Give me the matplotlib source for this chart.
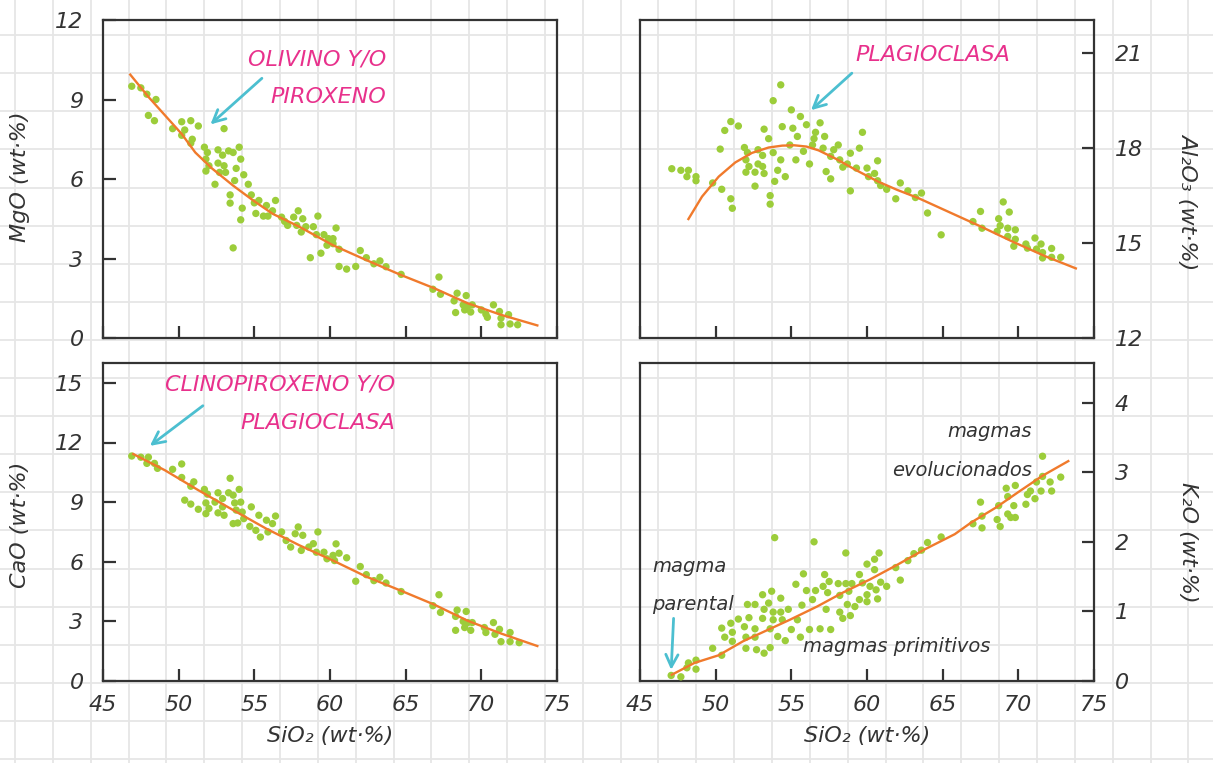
import numpy as np
import matplotlib
matplotlib.use('Agg')
import matplotlib.pyplot as plt

plt.rcParams.update({
    'font.family': ['DejaVu Sans'],
    'font.style': 'oblique',
    'axes.linewidth': 1.6,
    'axes.edgecolor': '#333333',
})

GREEN = '#9ccd3a'
ORANGE = '#f07a2c'
PINK = '#e8318c'
CYAN = '#4cbfd0'
INK = '#333333'

# --- MgO vs SiO2 ---
mgo_si = [46.9, 47.5, 47.9, 48.5, 48.0, 48.4, 49.6, 50.2, 50.8, 51.3, 50.4, 50.2, 50.9, 50.8, 53.0,
          51.7, 51.9, 52.6, 53.3, 54.0, 53.6, 54.1, 52.9, 51.8, 52.6, 53.0, 52.0, 51.8, 52.7, 53.1,
          53.8, 54.3, 53.7, 52.4, 54.6, 54.8, 53.4, 53.4, 54.2, 54.1, 55.0, 55.3, 55.8, 56.4, 55.1,
          55.6, 55.9, 56.2, 56.8, 57.0, 57.2, 57.6, 57.9, 58.2, 57.8, 58.1, 58.4, 58.9, 59.2, 59.1,
          59.6, 59.9, 60.2, 60.4, 59.8, 60.6, 60.2, 58.7, 59.4, 53.6, 62.0, 62.4, 62.9, 63.3, 63.7,
          60.6, 61.1, 61.7, 64.7, 67.2, 66.8, 67.3, 68.4, 69.0, 68.2, 68.8, 69.1, 69.4, 68.3, 68.9,
          69.3, 70.0, 70.3, 70.8, 71.2, 70.4, 71.8, 71.3, 71.3, 71.9, 72.4]
mgo = [9.5, 9.44, 9.2, 9.0, 8.4, 8.2, 7.9, 8.16, 8.2, 8.0, 7.85, 7.65, 7.5, 7.35, 7.9,
       7.2, 7.0, 7.1, 7.06, 7.2, 7.0, 6.75, 6.9, 6.75, 6.6, 6.5, 6.5, 6.3, 6.25, 6.25,
       6.4, 6.16, 5.94, 5.8, 5.8, 5.4, 5.4, 5.09, 4.9, 4.46, 5.1, 5.19, 5.0, 5.19, 4.7,
       4.6, 4.6, 4.8, 4.56, 4.4, 4.25, 4.56, 4.8, 4.5, 4.25, 4.0, 4.2, 4.2, 4.6, 3.9,
       3.9, 3.75, 3.75, 4.15, 3.5, 3.35, 3.56, 3.03, 3.2, 3.4, 3.3, 3.03, 2.8, 2.91, 2.69,
       2.7, 2.6, 2.7, 2.4, 2.3, 1.84, 1.65, 1.69, 1.6, 1.4, 1.25, 1.19, 1.25, 0.96, 1.06,
       0.98, 1.06, 0.9, 1.25, 1.0, 0.78, 0.88, 0.75, 0.5, 0.53, 0.5]
mgo_fit_si = [46.8, 48.0, 49.1, 50.2, 51.1, 52.2, 53.6, 54.9, 56.2, 58.0, 60.2, 62.4, 64.7, 66.9, 69.1, 71.3, 73.7]
mgo_fit = [9.94, 9.1, 8.4, 7.7, 7.0, 6.4, 5.75, 5.2, 4.69, 4.19, 3.5, 2.94, 2.375, 1.875, 1.31, 0.875, 0.475]

# --- Al2O3 vs SiO2 ---
al_si = [47.1, 47.7, 48.2, 48.1, 48.7, 48.7, 49.8, 50.4, 51.0, 51.1, 50.3, 50.6, 51.0, 51.5, 51.9,
         52.1, 52.0, 52.2, 52.0, 52.6, 52.8, 52.8, 53.1, 53.2, 53.5, 53.2, 52.6, 53.1, 53.8, 54.3,
         53.8, 53.9, 54.1, 53.6, 53.6, 54.3, 54.4, 54.6, 55.0, 55.1, 54.9, 55.3, 55.4, 55.6, 55.8,
         56.0, 56.2, 56.4, 56.6, 56.5, 56.9, 57.2, 57.1, 57.3, 57.6, 57.6, 57.8, 58.1, 58.2, 58.4,
         58.7, 58.9, 58.9, 59.5, 59.7, 59.3, 60.0, 60.1, 60.5, 60.7, 60.7, 60.9, 61.3, 61.9, 62.2,
         62.7, 63.2, 63.6, 64.0, 64.9, 67.0, 67.5, 67.6, 68.6, 68.7, 68.8, 69.0, 69.3, 69.4, 69.3,
         69.8, 69.8, 69.7, 70.5, 70.6, 71.1, 71.2, 71.5, 71.6, 71.6, 72.2, 72.2, 72.8]
al2o3 = [17.35, 17.3, 17.3, 17.1, 17.1, 16.97, 16.9, 16.7, 16.4, 16.1, 17.97, 18.56, 18.84, 18.7, 18.02,
         17.86, 17.63, 17.42, 17.24, 17.24, 17.5, 17.95, 17.77, 18.6, 18.3, 17.2, 16.8, 17.42, 19.5, 20.0,
         17.86, 16.95, 17.3, 16.5, 16.23, 17.63, 18.68, 17.1, 19.21, 18.63, 18.1, 17.63, 18.37, 19.0, 17.9,
         18.74, 17.5, 18.1, 18.5, 18.3, 18.8, 18.37, 18.0, 17.26, 17.03, 17.74, 17.95, 18.1, 17.63, 17.4,
         17.5, 17.84, 16.65, 18.0, 18.5, 17.37, 17.37, 17.1, 17.2, 17.6, 16.97, 16.82, 16.7, 16.4, 16.9,
         16.65, 16.44, 16.58, 15.95, 15.26, 15.68, 16.0, 15.47, 15.37, 15.77, 15.55, 16.3, 15.47, 15.98, 15.21,
         15.42, 15.12, 14.9, 14.97, 14.84, 15.16, 14.81, 14.97, 14.7, 14.53, 14.83, 14.55, 14.55]
al_fit_si = [48.2, 49.1, 50.2, 51.3, 52.4, 53.5, 54.4, 55.2, 56.0, 56.8, 58.0, 59.3, 60.7, 62.0, 63.4, 65.1, 67.4, 69.6, 71.8, 73.8]
al_fit = [15.76, 16.47, 17.1, 17.55, 17.85, 18.02, 18.08, 18.09, 18.05, 17.93, 17.65, 17.3, 16.95, 16.68, 16.42, 16.05, 15.55, 15.05, 14.58, 14.2]

# --- CaO vs SiO2 ---
ca_si = [46.9, 47.5, 48.0, 47.9, 48.4, 48.6, 49.6, 50.2, 50.2, 50.8, 51.0, 50.4, 50.8, 51.3, 51.7,
         51.9, 51.8, 51.8, 52.0, 52.6, 52.4, 52.6, 52.9, 52.9, 53.0, 53.4, 53.3, 53.6, 54.0, 53.7,
         54.1, 53.8, 54.2, 53.6, 53.9, 54.3, 54.7, 54.8, 55.3, 55.8, 55.1, 55.4, 55.9, 56.4, 56.2,
         56.8, 57.1, 57.4, 57.7, 57.9, 58.2, 58.1, 58.6, 58.9, 59.2, 59.1, 59.6, 59.8, 60.2, 60.4,
         60.6, 60.3, 61.1, 61.7, 62.0, 62.4, 62.9, 63.3, 63.7, 64.7, 67.2, 66.8, 67.3, 68.4, 69.0,
         68.3, 68.8, 69.1, 69.4, 68.3, 68.9, 69.3, 70.2, 70.3, 70.8, 71.2, 70.9, 71.9, 71.3, 71.9, 72.5]
cao = [11.32, 11.26, 11.26, 10.95, 10.95, 10.7, 10.65, 10.92, 10.24, 9.8, 10.02, 9.1, 8.9, 8.64, 9.64,
       9.4, 8.96, 8.42, 8.68, 9.47, 9.0, 8.46, 9.18, 8.76, 8.34, 10.2, 9.47, 9.35, 9.64, 8.96,
       9.0, 8.6, 8.5, 7.92, 7.95, 8.17, 7.78, 8.76, 8.34, 8.09, 7.58, 7.24, 7.5, 8.3, 7.92,
       7.5, 7.07, 6.74, 7.41, 7.75, 7.33, 6.57, 6.74, 6.91, 7.5, 6.48, 6.48, 6.15, 6.32, 6.9,
       6.43, 6.06, 6.2, 5.02, 5.76, 5.35, 5.05, 5.22, 4.93, 4.5, 4.34, 3.79, 3.45, 3.57, 3.5,
       3.25, 3.0, 2.94, 2.94, 2.55, 2.69, 2.55, 2.69, 2.44, 2.94, 2.6, 2.35, 2.44, 1.98, 1.98, 1.93]
ca_fit_si = [47.0, 49.1, 51.3, 53.6, 55.8, 58.0, 60.2, 62.4, 64.7, 66.9, 69.1, 71.3, 73.7]
ca_fit = [11.42, 10.6, 9.6, 8.6, 7.66, 6.82, 6.06, 5.25, 4.54, 3.84, 3.03, 2.39, 1.76]

# --- K2O vs SiO2 ---
k_si = [47.06, 47.7, 48.1, 48.2, 48.7, 48.7, 49.8, 50.4, 50.4, 50.6, 51.0, 51.1, 51.1, 51.5, 51.9,
        52.0, 52.0, 52.2, 52.1, 52.6, 52.6, 52.7, 52.6, 53.1, 53.1, 53.2, 53.2, 53.5, 53.7, 53.6,
        53.6, 53.8, 53.8, 53.9, 54.1, 54.3, 54.3, 54.4, 54.6, 54.8, 55.0, 55.3, 55.4, 55.6, 55.7,
        55.8, 56.0, 56.2, 56.4, 56.6, 56.5, 56.9, 57.1, 57.2, 57.3, 57.4, 57.5, 57.6, 58.1, 58.2,
        58.2, 58.4, 58.6, 58.6, 58.7, 58.8, 58.9, 59.0, 59.2, 59.5, 59.5, 59.7, 60.0, 60.0, 60.0,
        60.2, 60.5, 60.5, 60.6, 60.7, 60.8, 60.9, 61.3, 61.9, 62.2, 62.7, 63.1, 63.6, 64.0, 64.9,
        67.0, 67.5, 67.6, 67.6, 68.6, 68.7, 68.8, 69.2, 69.3, 69.3, 69.5, 69.7, 69.8, 69.8, 70.5,
        70.6, 70.8, 71.1, 71.2, 71.6, 71.6, 71.5, 72.1, 72.2, 72.8]
k2o = [0.08, 0.06, 0.19, 0.26, 0.17, 0.3, 0.47, 0.37, 0.76, 0.63, 0.83, 0.7, 0.57, 0.89, 0.78,
       0.63, 0.47, 0.91, 1.1, 1.1, 0.63, 0.45, 0.75, 0.9, 1.24, 1.03, 0.4, 1.12, 1.29, 0.48,
       0.75, 0.88, 0.99, 2.06, 0.64, 1.19, 0.99, 0.88, 0.58, 1.03, 0.74, 1.39, 0.88, 0.63, 1.09,
       1.54, 1.3, 0.74, 1.17, 1.3, 2.0, 0.75, 1.36, 1.53, 1.03, 1.27, 1.43, 0.74, 1.4, 1.23,
       0.99, 0.9, 1.84, 1.4, 1.1, 1.29, 0.94, 1.4, 1.07, 1.17, 1.53, 1.41, 1.24, 1.68, 1.14,
       1.36, 1.75, 1.6, 1.31, 1.18, 1.84, 1.42, 1.36, 1.63, 1.45, 1.73, 1.83, 1.88, 1.99, 2.07,
       2.26, 2.57, 2.37, 2.2, 2.32, 2.52, 2.22, 2.77, 2.65, 2.4, 2.35, 2.52, 2.81, 2.35, 2.54,
       2.68, 2.73, 2.62, 2.86, 2.94, 3.23, 2.73, 2.86, 2.73, 2.93]
k_fit_si = [47.1, 48.6, 50.2, 51.8, 53.3, 54.9, 56.7, 58.4, 60.2, 62.0, 63.8, 65.8, 66.9, 68.5, 70.1, 71.6, 73.3]
k_fit = [0.09, 0.26, 0.37, 0.57, 0.72, 0.88, 1.07, 1.27, 1.46, 1.67, 1.89, 2.11, 2.28, 2.49, 2.73, 2.95, 3.16]

W, H = 1213, 763
fig = plt.figure(figsize=(W / 100, H / 100), dpi=100)

# graph-paper background over the whole figure
bg = fig.add_axes([0, 0, 1, 1], zorder=-5)
bg.set_xlim(0, W); bg.set_ylim(H, 0); bg.axis('off')
for gx in np.arange(15, W, 37.85):
    bg.axvline(gx, color='#e6e6e6', lw=1.3)
for gy in np.arange(-3, H, 38.1):
    bg.axhline(gy, color='#e6e6e6', lw=1.3)

def px_rect(x0, y0, x1, y1):
    return [x0 / W, 1 - y1 / H, (x1 - x0) / W, (y1 - y0) / H]

ax_mg = fig.add_axes(px_rect(103, 20, 557, 338))
ax_al = fig.add_axes(px_rect(640, 20, 1094, 338))
ax_ca = fig.add_axes(px_rect(103, 363, 557, 681))
ax_k = fig.add_axes(px_rect(640, 363, 1094, 681))

panels = [
    (ax_mg, mgo_si, mgo, mgo_fit_si, mgo_fit, (0, 12), [0, 3, 6, 9, 12], 'left', 'MgO (wt·%)', 0.506),
    (ax_al, al_si, al2o3, al_fit_si, al_fit, (12, 22.05), [12, 15, 18, 21], 'right', 'Al₂O₃ (wt·%)', 0.43),
    (ax_ca, ca_si, cao, ca_fit_si, ca_fit, (0, 16), [0, 3, 6, 9, 12, 15], 'left', 'CaO (wt·%)', 0.49),
    (ax_k, k_si, k2o, k_fit_si, k_fit, (0, 4.57), [0, 1, 2, 3, 4], 'right', 'K₂O (wt·%)', 0.437),
]

for ax, xs, ys, fx, fy, ylim, yt, side, lab, ly in panels:
    ax.set_facecolor('none')
    ax.scatter(xs, ys, s=28, color=GREEN, edgecolors='none', zorder=3)
    ax.plot(fx, fy, color=ORANGE, lw=1.7, zorder=4)
    ax.set_xlim(45, 75)
    ax.set_ylim(*ylim)
    ax.set_xticks([45, 50, 55, 60, 65, 70, 75])
    ax.set_yticks(yt)
    ax.tick_params(direction='in', length=9, width=1.6, color=INK, labelcolor=INK, labelsize=16)
    ax.tick_params(axis='x', pad=10)
    if side == 'right':
        ax.yaxis.tick_right()
        ax.yaxis.set_label_position('right')
        ax.tick_params(axis='y', pad=15)
        ax.set_ylabel(lab, rotation=270, fontsize=16, color=INK, va='center')
        ax.yaxis.set_label_coords(1.207, ly)
    else:
        ax.tick_params(axis='y', pad=14)
        ax.set_ylabel(lab, fontsize=16, color=INK, va='center')
        ax.yaxis.set_label_coords(-0.183, ly)

for ax in (ax_mg, ax_al):
    ax.tick_params(axis='x', labelbottom=False)
for ax in (ax_ca, ax_k):
    ax.set_xlabel('SiO₂ (wt·%)', fontsize=16, color=INK, labelpad=8)

arrow = dict(arrowstyle='->', color=CYAN, lw=2, mutation_scale=22, shrinkA=0, shrinkB=0)

ax_mg.text(63.7, 10.5, 'OLIVINO Y/O', color=PINK, fontsize=16, ha='right', va='center')
ax_mg.text(63.7, 9.1, 'PIROXENO', color=PINK, fontsize=16, ha='right', va='center')
ax_mg.annotate('', xy=(52.1, 8.06), xytext=(55.5, 9.8), arrowprops=arrow)

ax_al.text(69.5, 20.95, 'PLAGIOCLASA', color=PINK, fontsize=16, ha='right', va='center')
ax_al.annotate('', xy=(56.3, 19.2), xytext=(59.0, 20.37), arrowprops=arrow)

ax_ca.text(64.3, 14.9, 'CLINOPIROXENO Y/O', color=PINK, fontsize=16, ha='right', va='center')
ax_ca.text(64.3, 12.98, 'PLAGIOCLASA', color=PINK, fontsize=16, ha='right', va='center')
ax_ca.annotate('', xy=(48.1, 11.83), xytext=(51.6, 13.85), arrowprops=arrow)

ax_k.text(70.9, 3.58, 'magmas', color=INK, fontsize=14, ha='right', va='center')
ax_k.text(70.9, 3.02, 'evolucionados', color=INK, fontsize=14, ha='right', va='center')
ax_k.text(45.83, 1.65, 'magma', color=INK, fontsize=14, ha='left', va='center')
ax_k.text(45.83, 1.10, 'parental', color=INK, fontsize=14, ha='left', va='center')
ax_k.text(55.77, 0.5, 'magmas primitivos', color=INK, fontsize=14, ha='left', va='center')
ax_k.annotate('', xy=(47.06, 0.16), xytext=(47.22, 0.9), arrowprops=arrow)

fig.savefig('out.png', dpi=100)
